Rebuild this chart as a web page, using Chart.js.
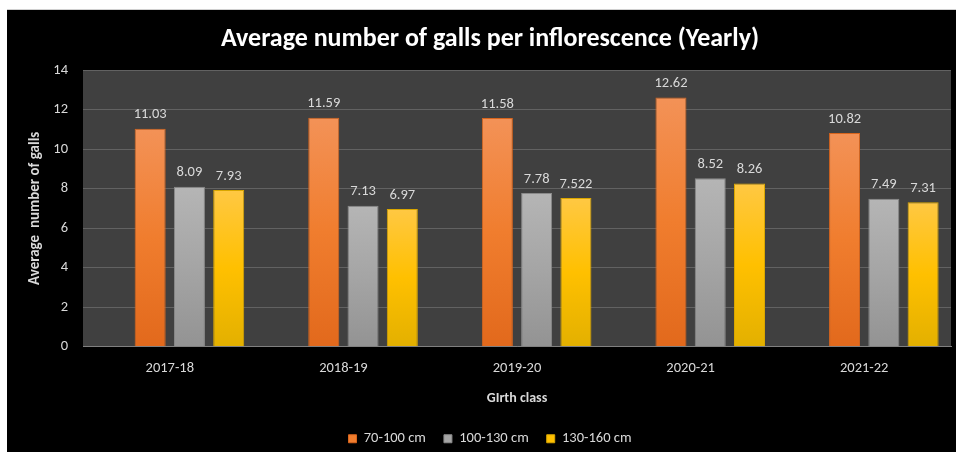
<!DOCTYPE html>
<html>
<head>
<meta charset="utf-8">
<script src="https://cdn.jsdelivr.net/npm/chart.js@4"></script>
<style>
  html, body { margin: 0; padding: 0; background: #ffffff; }
  #box { position: absolute; left: 7px; top: 9px; width: 949px; height: 443px; background: #000000; border-top: 1px solid #d0d0d0; box-sizing: border-box; }
  #box canvas { display: block; }
</style>
</head>
<body>
<div id="box"><canvas id="chart" width="949" height="442"></canvas></div>
<script>
// values
const years = ['2017-18', '2018-19', '2019-20', '2020-21', '2021-22']
const emptySlot = [null, null, null, null, null] // excel had an empty first series, bars sit right of centre
const girth70 = [11.03, 11.59, 11.58, 12.62, 10.82]
const girth100 = [8.09, 7.13, 7.78, 8.52, 7.49]
const girth130 = [7.93, 6.97, 7.522, 8.26, 7.31]

const fontFam = 'Carlito, Lato, "Liberation Sans", sans-serif'
const txt = '#d9d9d9'

// vertical gradient for each bar, light at the top
gradFill = (stops, fallback) => (context) => {
	const chart = context.chart
	if (!chart.chartArea || !chart.scales.y || context.raw == null) return fallback
	const y = chart.scales.y
	const top = y.getPixelForValue(context.raw)
	const bottom = y.getPixelForValue(0)
	if (!(bottom > top)) return fallback
	const g = chart.ctx.createLinearGradient(0, top, 0, bottom)
	g.addColorStop(0, stops[0])
	g.addColorStop(0.5, stops[1])
	g.addColorStop(1, stops[2])
	return g
}

const plotBg = {
	id: 'plotBg',
	beforeDraw(chart) {
		const {ctx, chartArea: a} = chart
		ctx.save()
		ctx.fillStyle = '#404040'
		ctx.fillRect(a.left, a.top, a.right - a.left, a.bottom - a.top)
		ctx.restore()
	}
}

// value labels above the bars
const barLabels = {
	id: 'barLabels',
	afterDatasetsDraw(chart) {
		const ctx = chart.ctx
		ctx.save()
		ctx.font = '14.5px ' + fontFam
		ctx.fillStyle = txt
		ctx.textAlign = 'center'
		ctx.textBaseline = 'middle'
		chart.data.datasets.forEach((ds, i) => {
			const meta = chart.getDatasetMeta(i)
			meta.data.forEach((bar, j) => {
				const v = ds.data[j]
				if (v == null) return
				ctx.fillText(String(v), bar.x, bar.y - 14)
			})
		})
		ctx.restore()
	}
}

const solid = [null, '#F07D2E', '#A5A5A5', '#FFC000']

const chart = new Chart(document.getElementById('chart'), {
	type: 'bar',
	data: {
		labels: years,
		datasets: [
			{ label: '', data: emptySlot },
			{
				label: '70-100 cm',
				data: girth70,
				backgroundColor: gradFill(['#F39257', '#F07D2E', '#E2691C'], '#F07D2E'),
				borderColor: '#D8651D',
				borderWidth: 1
			},
			{
				label: '100-130 cm',
				data: girth100,
				backgroundColor: gradFill(['#B5B5B5', '#A5A5A5', '#939393'], '#A5A5A5'),
				borderColor: '#8A8A8A',
				borderWidth: 1
			},
			{
				label: '130-160 cm',
				data: girth130,
				backgroundColor: gradFill(['#FFC843', '#FFC000', '#E3B000'], '#FFC000'),
				borderColor: '#D9A600',
				borderWidth: 1
			}
		]
	},
	options: {
		responsive: false,
		animation: false,
		categoryPercentage: 0.905,
		barPercentage: 0.79,
		layout: { padding: { left: 22, right: 5, top: 0, bottom: -4 } },
		plugins: {
			title: {
				display: true,
				text: 'Average number of galls per inflorescence (Yearly)',
				color: '#ffffff',
				font: { family: fontFam, size: 26, weight: 'bold' },
				padding: { top: 14, bottom: 15 }
			},
			legend: {
				position: 'bottom',
				labels: {
					color: txt,
					font: { family: fontFam, size: 14.5 },
					boxWidth: 8,
					boxHeight: 8,
					padding: 18,
					filter: item => item.text !== '',
					generateLabels: c => c.data.datasets.map((ds, i) => ({
						text: ds.label,
						fillStyle: solid[i] || '#000',
						strokeStyle: ds.borderColor || '#000',
						lineWidth: 1,
						fontColor: txt,
						datasetIndex: i
					}))
				}
			},
			tooltip: { enabled: false }
		},
		scales: {
			x: {
				grid: { display: false, drawTicks: false },
				border: { color: '#808080', width: 1 },
				ticks: { color: txt, font: { family: fontFam, size: 14.5 }, padding: 13 },
				title: {
					display: true,
					text: 'GIrth class',
					color: txt,
					font: { family: fontFam, size: 14, weight: 'bold' },
					padding: { top: 0, bottom: 7 }
				},
				afterFit: s => { s.height = 67 }
			},
			y: {
				min: 0,
				max: 14,
				grid: { color: '#626262', drawTicks: false },
				border: { display: false },
				ticks: { stepSize: 2, color: txt, font: { family: fontFam, size: 14.5 }, padding: 15 },
				title: {
					display: true,
					text: 'Average  number of galls',
					color: txt,
					font: { family: fontFam, size: 15, weight: 'bold' },
					padding: { top: -3, bottom: 0 }
				},
				afterFit: s => { s.width = 54 }
			}
		}
	},
	plugins: [plotBg, barLabels]
})
</script>
</body>
</html>
